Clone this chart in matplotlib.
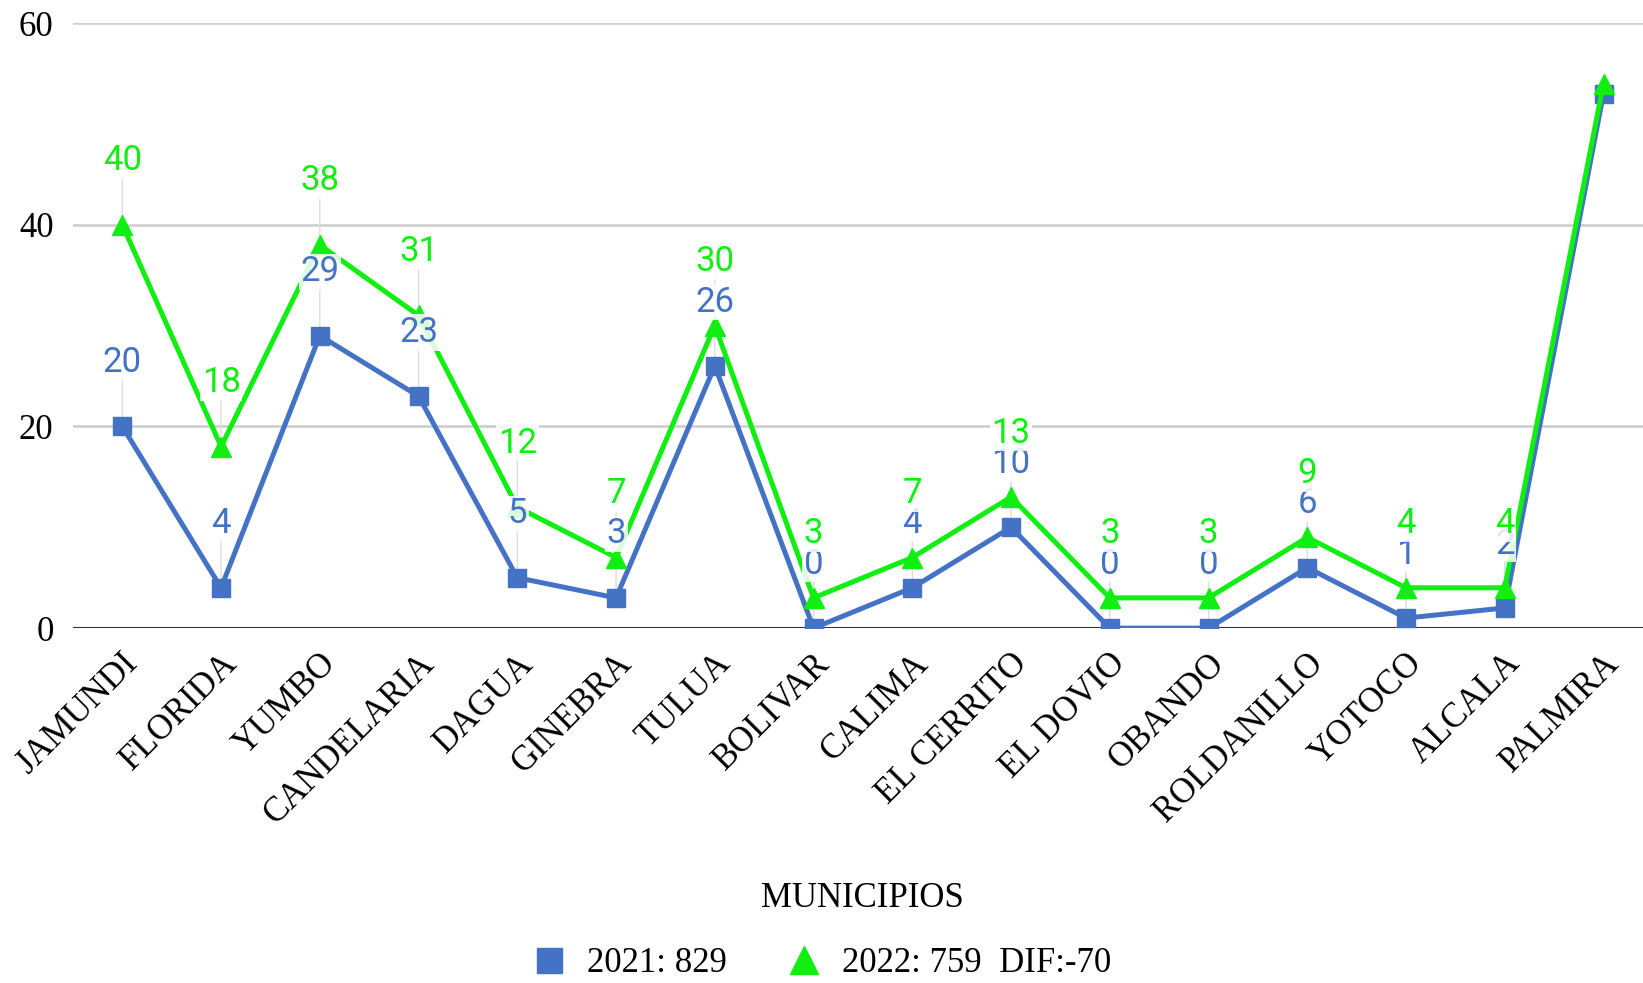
import matplotlib
matplotlib.use("Agg")
from matplotlib import pyplot as plt
from matplotlib.lines import Line2D
import matplotlib.transforms as mtransforms

municipios = ["JAMUNDI", "FLORIDA", "YUMBO", "CANDELARIA", "DAGUA", "GINEBRA", "TULUA",
              "BOLIVAR", "CALIMA", "EL CERRITO", "EL DOVIO", "OBANDO", "ROLDANILLO",
              "YOTOCO", "ALCALA", "PALMIRA"]
casos_2021 = [20, 4, 29, 23, 5, 3, 26, 0, 4, 10, 0, 0, 6, 1, 2, 53]
casos_2022 = [40, 18, 38, 31, 12, 7, 30, 3, 7, 13, 3, 3, 9, 4, 4, 54]
legend_labels = ["2021: 829", "2022: 759  DIF:-70"]
y_ticks = [0, 20, 40, 60]

blue = "#4472c4"
green = "#11ee11"
serif = "Liberation Serif"
sans = "Roboto"


def add_labels(ax, values, color, skip_last=True):
    n = len(values) - 1 if skip_last else len(values)
    for i in range(n):
        v = values[i]
        # thin leader line from the point up to the label
        ax.annotate("", xy=(i, v), xytext=(0, 36), textcoords="offset points",
                    arrowprops=dict(arrowstyle="-", color="#dddddd", lw=1.0,
                                    shrinkA=0, shrinkB=0), zorder=1)
        ax.annotate(str(v), xy=(i, v), xytext=(0, 46), textcoords="offset points",
                    ha="center", va="center", color=color, fontsize=25, family=sans,
                    bbox=dict(boxstyle="square,pad=0.05", fc="white", ec="none", alpha=0.85),
                    zorder=5)


fig = plt.figure(figsize=(16.43, 9.83), dpi=100)
ax = fig.add_axes([0.0444, 0.361, 0.9556, 0.6156])

x = list(range(len(municipios)))
ax.plot(x, casos_2021, color=blue, lw=3.6, marker="s", markersize=13, zorder=3)
ax.plot(x, casos_2022, color=green, lw=3.6, marker="^", markersize=15, zorder=4)

add_labels(ax, casos_2021, blue)
add_labels(ax, casos_2022, green)

ax.set_ylim(0, 60)
ax.set_xlim(-0.5, 15.4)
ax.set_yticks(y_ticks)
ax.set_yticklabels([str(t) for t in y_ticks], family=serif, fontsize=25)
ax.tick_params(axis="y", length=0, pad=14)
ax.grid(axis="y", color="#cccccc", lw=1.8)
ax.set_axisbelow(True)
ax.axhline(0, color="#333333", lw=2.2, zorder=2)
for s in ax.spines.values():
    s.set_visible(False)

ax.set_xticks(x)
ax.set_xticklabels(municipios, rotation=45, ha="right", va="center", rotation_mode="anchor",
                   family=serif, fontsize=25)
ax.tick_params(axis="x", length=0, pad=22)
shift = mtransforms.ScaledTranslation(11 / 100, 0, fig.dpi_scale_trans)
for lab in ax.get_xticklabels():
    lab.set_transform(lab.get_transform() + shift)

ax.set_xlabel("MUNICIPIOS", family=serif, fontsize=25)
ax.xaxis.set_label_coords((823 * 1643 / 1568 - 73) / (1643 - 73), -0.42)

handles = [Line2D([], [], color=blue, marker="s", ls="none", markersize=18),
           Line2D([], [], color=green, marker="^", ls="none", markersize=20)]
fig.legend(handles, legend_labels, loc="center", bbox_to_anchor=(0.5, 0.02), ncol=2,
           frameon=False, prop=dict(family=serif, size=25), handlelength=1.0,
           handletextpad=0.6, columnspacing=1.7)

fig.savefig("out.png", dpi=100)
